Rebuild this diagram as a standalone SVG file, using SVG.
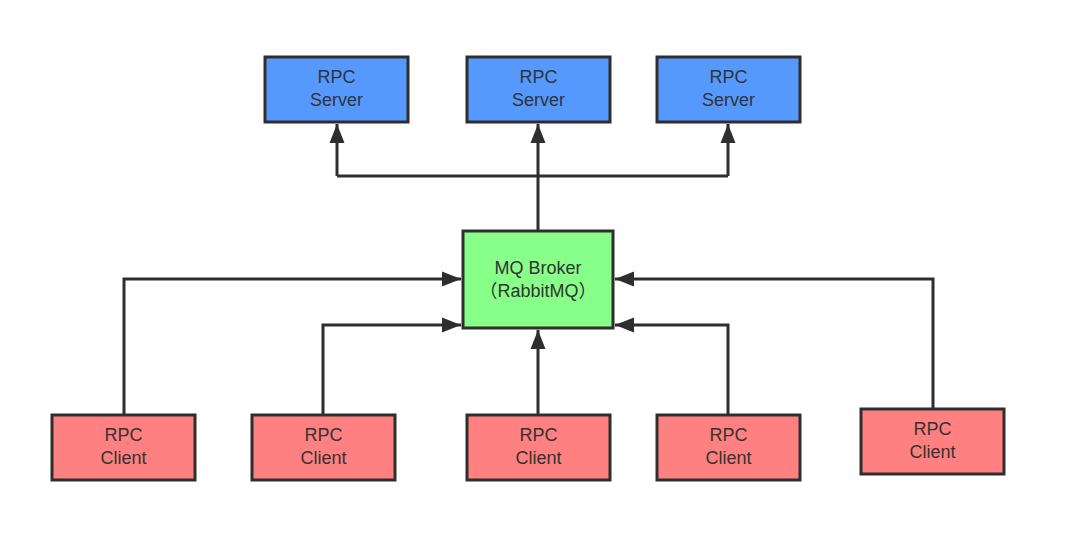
<svg xmlns="http://www.w3.org/2000/svg" width="1080" height="534" viewBox="0 0 1080 534">
<style>
.box{stroke:#2e2e2e;stroke-width:3}
.srv{fill:#5599ff}
.brk{fill:#88ff88}
.cli{fill:#ff8080}
.t{font-family:"Liberation Sans",Arial,"Noto Sans CJK SC",sans-serif;font-size:18px;fill:#333;text-anchor:middle}
.c{fill:none;stroke:#2e2e2e;stroke-width:3;stroke-linejoin:miter}
</style>
<defs>
<marker id="ah" markerUnits="userSpaceOnUse" markerWidth="20" markerHeight="16" refX="19" refY="8" orient="auto" overflow="visible">
<path d="M0,0.5 L19,8 L0,15.5 Z" fill="#2e2e2e"/>
</marker>
</defs>
<rect width="1080" height="534" fill="#fff"/>
<g id="connectors">
<path class="c" d="M538,230 V124" marker-end="url(#ah)"/>
<path class="c" d="M337,176 H728"/>
<path class="c" d="M337,176 V124" marker-end="url(#ah)"/>
<path class="c" d="M728,176 V124" marker-end="url(#ah)"/>
<path class="c" d="M124,414 V279 H461" marker-end="url(#ah)"/>
<path class="c" d="M323,414 V325 H461" marker-end="url(#ah)"/>
<path class="c" d="M538,414 V330" marker-end="url(#ah)"/>
<path class="c" d="M728,414 V325 H615" marker-end="url(#ah)"/>
<path class="c" d="M933,408 V279 H615" marker-end="url(#ah)"/>
</g>
<g id="server1"><rect class="box srv" x="265" y="57" width="143" height="65"/><text class="t" x="336.5" y="83">RPC</text><text class="t" x="336.5" y="106">Server</text></g>
<g id="server2"><rect class="box srv" x="467" y="57" width="143" height="65"/><text class="t" x="538.5" y="83">RPC</text><text class="t" x="538.5" y="106">Server</text></g>
<g id="server3"><rect class="box srv" x="657" y="57" width="143" height="65"/><text class="t" x="728.5" y="83">RPC</text><text class="t" x="728.5" y="106">Server</text></g>
<g id="broker"><rect class="box brk" x="463" y="231" width="150" height="97"/><text class="t" x="538" y="274">MQ Broker</text><text class="t" x="538" y="297">（RabbitMQ）</text></g>
<g id="client1"><rect class="box cli" x="52" y="415" width="143" height="65"/><text class="t" x="123.5" y="441">RPC</text><text class="t" x="123.5" y="464">Client</text></g>
<g id="client2"><rect class="box cli" x="252" y="415" width="143" height="65"/><text class="t" x="323.5" y="441">RPC</text><text class="t" x="323.5" y="464">Client</text></g>
<g id="client3"><rect class="box cli" x="467" y="415" width="143" height="65"/><text class="t" x="538.5" y="441">RPC</text><text class="t" x="538.5" y="464">Client</text></g>
<g id="client4"><rect class="box cli" x="657" y="415" width="143" height="65"/><text class="t" x="728.5" y="441">RPC</text><text class="t" x="728.5" y="464">Client</text></g>
<g id="client5"><rect class="box cli" x="861" y="409" width="143" height="65"/><text class="t" x="932.5" y="435">RPC</text><text class="t" x="932.5" y="458">Client</text></g>
</svg>
